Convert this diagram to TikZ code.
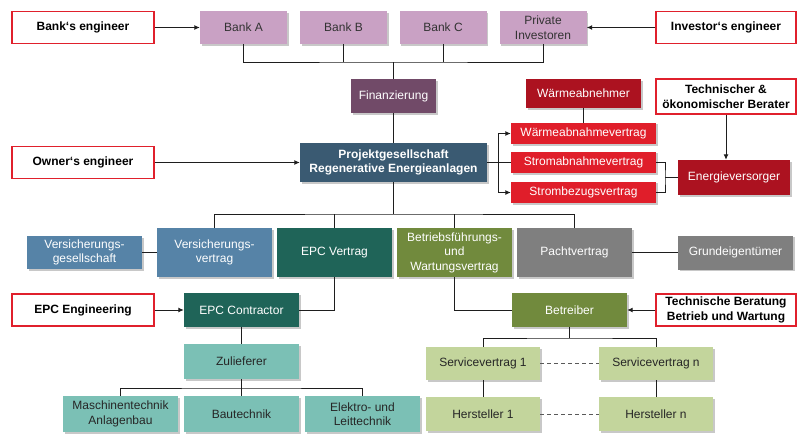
\documentclass[tikz,border=0pt]{standalone}
\usepackage{fontspec}
\setmainfont{Liberation Sans}
\usepackage{tikz}
\usetikzlibrary{arrows.meta,shadows}
\definecolor{bankRosa}{HTML}{C9A1C4}
\definecolor{finanzLila}{HTML}{714A68}
\definecolor{projektBlau}{HTML}{3A5A72}
\definecolor{vertragRot}{HTML}{E01E2A}
\definecolor{dunkelRot}{HTML}{AC1220}
\definecolor{stahlBlau}{HTML}{5683A7}
\definecolor{epcGruen}{HTML}{1F6458}
\definecolor{olivGruen}{HTML}{718A3D}
\definecolor{pachtGrau}{HTML}{7F7F7F}
\definecolor{tuerkisHell}{HTML}{7BC0B5}
\definecolor{hellGruen}{HTML}{C3D59C}
\definecolor{rahmenRot}{HTML}{E0202C}
\definecolor{linienGrau}{HTML}{1E1E1E}
\tikzset{
  feld/.style={rectangle, inner sep=1pt, align=center,
    font=\fontsize{12}{14.5}\selectfont,
    drop shadow={shadow xshift=1.5pt, shadow yshift=-1.5pt, opacity=0.3, fill=black!70}},
  ingbox/.style={rectangle, draw=rahmenRot, line width=1.8pt, fill=white, inner sep=1pt,
    align=center, font=\fontsize{12}{14.5}\selectfont\bfseries,
    minimum width=142pt, minimum height=32pt},
  gross/.style={minimum width=115pt, minimum height=49pt},
  klein/.style={minimum width=115pt, minimum height=34pt},
  bankbox/.style={feld, fill=bankRosa, text=black!80, minimum width=87pt, minimum height=33pt},
  vertragbox/.style={feld, fill=vertragRot, text=white, minimum width=145pt, minimum height=21.5pt},
  rotbox/.style={feld, fill=dunkelRot, text=white},
  blaubox/.style={feld, fill=stahlBlau, text=white},
  epcbox/.style={feld, fill=epcGruen, text=white},
  olivbox/.style={feld, fill=olivGruen, text=white},
  graubox/.style={feld, fill=pachtGrau, text=white},
  tuerkisbox/.style={feld, fill=tuerkisHell, text=black!85},
  gruenbox/.style={feld, fill=hellGruen, text=black!85},
  verbinder/.style={draw=linienGrau, line width=1pt}
}
\begin{document}
\begin{tikzpicture}[x=1pt,y=-1pt,>={Latex[length=5.5pt,width=5pt]}]
\path[fill=white, use as bounding box] (0,0) rectangle (798,434);
% Finanzierung
\node[ingbox] (bankeng) at (83,27.5) {Bank‘s engineer};
\node[bankbox] (bankA) at (243.5,27.5) {Bank A};
\node[bankbox] (bankB) at (343.5,27.5) {Bank B};
\node[bankbox] (bankC) at (443,27.5) {Bank C};
\node[bankbox] (privat) at (543,27.5) {Private\\Investoren};
\node[ingbox, minimum width=140pt] (inveng) at (726,27.5) {Investor‘s engineer};
\node[feld, fill=finanzLila, text=white, minimum width=85pt, minimum height=34pt] (finanz) at (393.5,96) {Finanzierung};
\coordinate (bankbus) at (393.5,62);
\draw[verbinder] (bankA.south) |- (bankbus) -| (privat.south);
\draw[verbinder] (bankB.south) -- (bankB.south |- bankbus);
\draw[verbinder] (bankC.south) -- (bankC.south |- bankbus);
\draw[verbinder] (finanz.north) -- (bankbus);
\draw[verbinder,->] (bankeng.east) -- (bankA.west);
\draw[verbinder,->] (inveng.west) -- (privat.east);
% Projektgesellschaft und Abnahme
\node[feld, fill=projektBlau, text=white, font=\fontsize{12}{14.5}\selectfont\bfseries,
  minimum width=187pt, minimum height=39pt] (projekt) at (393.5,162.5) {Projektgesellschaft\\Regenerative Energieanlagen};
\node[ingbox] (ownereng) at (83,162.5) {Owner‘s engineer};
\node[rotbox, minimum width=115pt, minimum height=29pt] (wabn) at (583.5,93.5) {Wärmeabnehmer};
\node[vertragbox] (waerme) at (583.5,133.5) {Wärmeabnahmevertrag};
\node[vertragbox] (strab) at (583.5,162.5) {Stromabnahmevertrag};
\node[vertragbox] (strbez) at (583.5,192.5) {Strombezugsvertrag};
\node[ingbox, minimum width=140pt, minimum height=35pt] (techber) at (726,96.5) {Technischer \&\\ökonomischer Berater};
\node[rotbox, minimum width=112pt, minimum height=35pt] (ev) at (734,177.5) {Energieversorger};
\coordinate (projfork) at (498,162.5);
\coordinate (evfork) at (665,177.5);
\draw[verbinder] (finanz) -- (projekt);
\draw[verbinder,->] (ownereng.east) -- (projekt.west);
\draw[verbinder] (projekt.east) -- (strab.west);
\draw[verbinder,->] (projfork) |- (waerme.west);
\draw[verbinder,->] (projfork) |- (strbez.west);
\draw[verbinder] (wabn) -- (waerme);
\draw[verbinder] (strab.east) -| (evfork) |- (strbez.east);
\draw[verbinder] (evfork) -- (ev.west);
\draw[verbinder,->] (techber.south) -- (techber.south |- ev.north);
% Vertraege
\node[blaubox, klein, minimum height=33pt] (vges) at (84.5,252.5) {Versicherungs-\\gesellschaft};
\node[blaubox, gross] (vvertrag) at (214.5,252.5) {Versicherungs-\\vertrag};
\node[epcbox, gross] (epcv) at (334.5,252.5) {EPC Vertrag};
\node[olivbox, gross] (bfw) at (454.5,252.5) {Betriebsführungs-\\und\\Wartungsvertrag};
\node[graubox, gross] (pacht) at (574.5,252.5) {Pachtvertrag};
\node[graubox, klein] (grund) at (735.5,252.5) {Grundeigentümer};
\coordinate (projbus) at (393.5,214);
\draw[verbinder] (projekt.south) -- (projbus);
\draw[verbinder] (vvertrag.north) |- (projbus) -| (pacht.north);
\draw[verbinder] (epcv.north) -- (epcv.north |- projbus);
\draw[verbinder] (bfw.north) -- (bfw.north |- projbus);
\draw[verbinder] (vges) -- (vvertrag);
\draw[verbinder] (pacht) -- (grund);
% EPC
\node[ingbox] (epceng) at (83,310) {EPC Engineering};
\node[epcbox, klein] (epcc) at (241.5,310) {EPC Contractor};
\node[tuerkisbox, klein, minimum height=35pt] (zul) at (241.5,361.5) {Zulieferer};
\node[tuerkisbox, klein, minimum height=36pt] (masch) at (120.5,414) {Maschinentechnik\\Anlagenbau};
\node[tuerkisbox, klein, minimum height=36pt] (bau) at (241.5,414) {Bautechnik};
\node[tuerkisbox, klein, minimum height=36pt] (elektro) at (362.5,414) {Elektro- und\\Leittechnik};
\coordinate (zulbus) at (241.5,388);
\draw[verbinder] (epcv.south) |- (epcc.east);
\draw[verbinder,->] (epceng.east) -- (epcc.west);
\draw[verbinder] (epcc) -- (zul);
\draw[verbinder] (zul.south) -- (zulbus);
\draw[verbinder] (masch.north) |- (zulbus) -| (elektro.north);
\draw[verbinder] (bau.north) -- (zulbus);
% Betrieb
\node[olivbox, klein] (betreiber) at (569.5,310) {Betreiber};
\node[ingbox, minimum width=140pt] (tberatung) at (726,310) {Technische Beratung\\Betrieb und Wartung};
\node[gruenbox, minimum width=114pt, minimum height=33pt] (sv1) at (483,363.5) {Servicevertrag 1};
\node[gruenbox, minimum width=114pt, minimum height=33pt] (svn) at (656,363.5) {Servicevertrag n};
\node[gruenbox, minimum width=114pt, minimum height=34pt] (h1) at (483,414) {Hersteller 1};
\node[gruenbox, minimum width=114pt, minimum height=34pt] (hn) at (656,414) {Hersteller n};
\coordinate (betrbus) at (569.5,338);
\draw[verbinder] (bfw.south) |- (betreiber.west);
\draw[verbinder,->] (tberatung.west) -- (betreiber.east);
\draw[verbinder] (betreiber.south) -- (betrbus);
\draw[verbinder] (sv1.north) |- (betrbus) -| (svn.north);
\draw[verbinder] (sv1) -- (h1);
\draw[verbinder] (svn) -- (hn);
\draw[verbinder, dash pattern=on 4pt off 3pt, draw=black!65] (sv1) -- (svn);
\draw[verbinder, dash pattern=on 4pt off 3pt, draw=black!65] (h1) -- (hn);
\end{tikzpicture}
\end{document}
